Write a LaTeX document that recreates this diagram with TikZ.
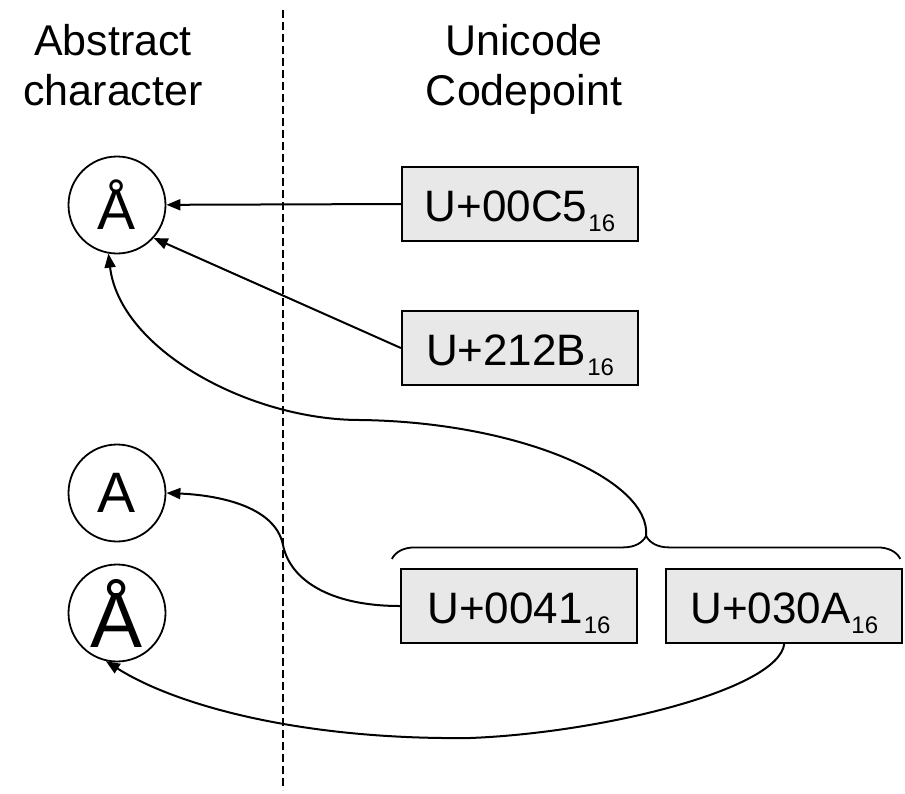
\documentclass[tikz,border=0pt]{standalone}
\usepackage{fontspec}
\setmainfont{Liberation Sans}
\usetikzlibrary{arrows.meta,positioning,calc,decorations.pathreplacing}
\tikzset{
    box fill/.style={fill=black!9},
    char circle/.style={circle,draw,line width=1.8pt,minimum size=97pt,inner sep=0pt,
        font=\fontsize{57}{57}\selectfont},
    code box/.style={rectangle,draw,line width=2.2pt,box fill,minimum width=236pt,
        minimum height=74pt,inner sep=0pt,text height=34pt,text depth=0pt,
        font=\fontsize{44}{44}\selectfont},
    head/.style={anchor=base,font=\fontsize{43}{43}\selectfont},
    arr/.style={-{Triangle[length=14pt,width=11pt]},line width=2pt},
    separator/.style={dash pattern=on 8pt off 4pt,line width=1.6pt},
    brace line/.style={line width=1.8pt,decorate,decoration={brace,amplitude=#1}},
}
\newcommand{\hexsub}[1]{\kern1pt\raisebox{-10pt}{\fontsize{24}{24}\selectfont #1}}

\begin{document}
\begin{tikzpicture}[x=1pt,y=1pt]
    \useasboundingbox (0,0) rectangle (905,-793);
    % column headings and the dividing line
    \node[head] (absA) at (113,-55) {Abstract};
    \node[head] (absB) at (113,-105) {character};
    \node[head] (uniA) at (524,-55) {Unicode};
    \node[head] (uniB) at (524,-105) {Codepoint};
    \coordinate (septop) at (283,-10);
    \coordinate (sepbot) at (283,-790);
    \draw[separator] (septop) -- (sepbot);

    % characters
    \node[char circle] (ringA) at (117,-205) {Å};
    \node[char circle] (plainA) at (117,-493) {A};
    \node[char circle,font=\fontsize{78}{78}\selectfont] (comboA) at (117,-613) {Å};

    % code points
    \node[code box] (u00C5) at (520,-204) {U+00C5\hexsub{16}};
    \node[code box] (u212B) at (520,-348) {U+212B\hexsub{16}};
    \node[code box] (u0041) at (519,-606) {U+0041\hexsub{16}};
    \node[code box,right=27pt of u0041] (u030A) {U+030A\hexsub{16}};

    % the pair A + ring
    \coordinate (brL) at ($(u0041.north west)+(-8,9)$);
    \coordinate (brR) at ($(u030A.north east)+(-3,9)$);
    \draw[brace line=23pt] (brL) -- (brR);
    \coordinate (brtip) at ($(brL)!.5!(brR)+(0,23)$);

    \draw[arr] (u00C5.west) -- (ringA);
    \draw[arr] (u212B.west) -- (ringA.-42);
    \draw[arr] (brtip) .. controls (651,-480) and (520,-422) .. (360,-420)
        .. controls (250,-420) and (120,-350) .. (ringA.-100);
    \draw[arr] (u0041.west) .. controls (330,-606) and (290,-580) .. (283,-545)
        .. controls (275,-505) and (215,-495) .. (plainA.east);
    \draw[arr] (u030A.south) .. controls (778,-690) and (600,-733) .. (470,-738)
        .. controls (300,-740) and (175,-705) .. (comboA.-103);
\end{tikzpicture}
\end{document}
